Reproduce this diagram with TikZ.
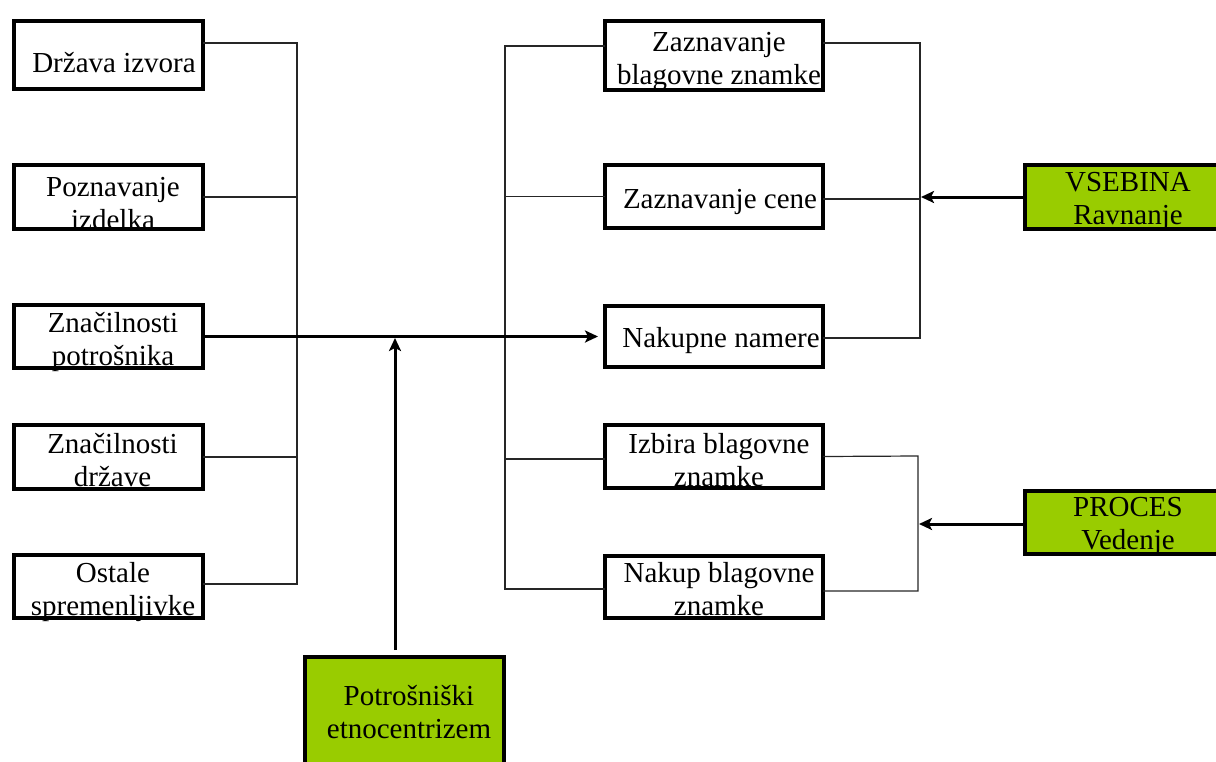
\documentclass[tikz,border=0pt]{standalone}
\usepackage{fontspec}
\setmainfont{Liberation Serif}
\usetikzlibrary{arrows.meta}
\definecolor{greenbox}{HTML}{99CC00}
\begin{document}
\begin{tikzpicture}[x=1pt,y=-1pt,
  wbox/.style={draw=black, line width=4pt, fill=white, inner sep=0pt, outer sep=0pt},
  gbox/.style={draw=black, line width=4pt, fill=greenbox, inner sep=0pt, outer sep=0pt},
  border/.style={draw=black, line width=4pt},
  lbl/.style={font=\fontsize{29}{33}\selectfont, align=center, inner sep=0pt},
  conn/.style={line width=1.2pt, draw=black!85},
  bigarrow/.style={line width=3pt, -{Stealth[length=13pt,width=12pt,inset=3pt]}}]
\useasboundingbox (0,0) rectangle (1216,761);

% left boxes
\node[wbox, minimum width=189pt, minimum height=68pt] (L1) at (108.5,55) {};
\node[wbox, minimum width=189pt, minimum height=64pt] (L2) at (108.5,197) {};
\node[wbox, minimum width=189pt, minimum height=63pt] (L3) at (108.5,336.5) {};
\node[wbox, minimum width=189pt, minimum height=64pt] (L4) at (108.5,457) {};
\node[wbox, minimum width=189pt, minimum height=63pt] (L5) at (108.5,586.5) {};

% right boxes
\node[wbox, minimum width=218pt, minimum height=69pt] (R1) at (714,55.5) {};
\node[wbox, minimum width=218pt, minimum height=63pt] (R2) at (714,196.5) {};
\node[wbox, minimum width=218pt, minimum height=61pt] (R3) at (714,336.5) {};
\node[wbox, minimum width=218pt, minimum height=63pt] (R4) at (714,456.5) {};
\node[wbox, minimum width=218pt, minimum height=62pt] (R5) at (714,587) {};

% green boxes
\node[gbox, minimum width=206pt, minimum height=64pt] (V) at (1128,197) {};
\node[gbox, minimum width=206pt, minimum height=63pt] (P) at (1128,522.5) {};
\node[gbox, minimum width=199pt, minimum height=109pt] (E) at (404.5,711.5) {};

% texts
\node[lbl] (tL1) at (114,62.5) {Država izvora};
\node[lbl] (tL2) at (113,203.5) {Poznavanje\\izdelka};
\node[lbl] (tL3) at (113,342) {Značilnosti\\potrošnika};
\node[lbl] (tL4) at (112.5,460) {Značilnosti\\države};
\node[lbl] (tL5) at (113,592.5) {Ostale\\spremenljivke};
\node[lbl] (tR1) at (719,61.5) {Zaznavanje\\blagovne znamke};
\node[lbl] (tR2) at (720,201.5) {Zaznavanje cene};
\node[lbl] (tR3) at (721,340.5) {Nakupne namere};
\node[lbl] (tR4) at (719,460) {Izbira blagovne\\znamke};
\node[lbl] (tR5) at (719,589.5) {Nakup blagovne\\znamke};
\node[lbl] (tV) at (1128,201) {VSEBINA\\Ravnanje};
\node[lbl] (tP) at (1128,526) {PROCES\\Vedenje};
\node[lbl] (tE) at (409,712.5) {Potrošniški\\etnocentrizem};

% borders drawn over the text, as in the original
\foreach \b in {L1,L2,L3,L4,L5,R1,R2,R3,R4,R5,V,P,E}
  \draw[border] (\b.south west) rectangle (\b.north east);

% left bracket
\coordinate (lbt) at (297,43);
\coordinate (lbb) at (297,584);
\draw[conn] ([yshift=12pt]L1.east) -- (lbt) -- (lbb) -- ([yshift=2.5pt]L5.east);
\draw[conn] (L2.east) -- (L2.east -| lbt);
\draw[conn] (L4.east) -- (L4.east -| lbt);

% right-left bracket
\coordinate (rbt) at (505,46);
\coordinate (rbb) at (505,589);
\draw[conn] ([yshift=9.5pt]R1.west) -- (rbt) -- (rbb) -- ([yshift=-2pt]R5.west);
\draw[conn] (R2.west) -- (R2.west -| rbt);
\draw[conn] ([yshift=-2.5pt]R4.west) -- ([yshift=-2.5pt]R4.west -| rbt);

% right upper bracket
\coordinate (ut) at (920,43);
\coordinate (ub) at (920,338);
\draw[conn] ([yshift=12.5pt]R1.east) -- (ut) -- (ub) -- ([yshift=-1.5pt]R3.east);
\draw[conn] ([yshift=-2.5pt]R2.east) -- ([yshift=-2.5pt]R2.east -| ut);

% right lower bracket
\coordinate (lt) at (918,456);
\coordinate (lbm) at (918,591);
\draw[conn] (R4.east) -- (lt) -- (lbm) -- ([yshift=-4pt]R5.east);

% arrows
\coordinate (mid) at (395,338);
\draw[bigarrow] ([xshift=2pt]L3.east) -- ([xshift=-7pt]R3.west);
\draw[bigarrow] ([xshift=-9.5pt,yshift=7pt]E.north) -- (mid);
\coordinate (va) at (921,197);
\draw[bigarrow] ([xshift=-2pt]V.west) -- (va);
\coordinate (pa) at (919,524);
\draw[bigarrow] ([xshift=-2pt,yshift=-1.5pt]P.west) -- (pa);
\end{tikzpicture}
\end{document}
